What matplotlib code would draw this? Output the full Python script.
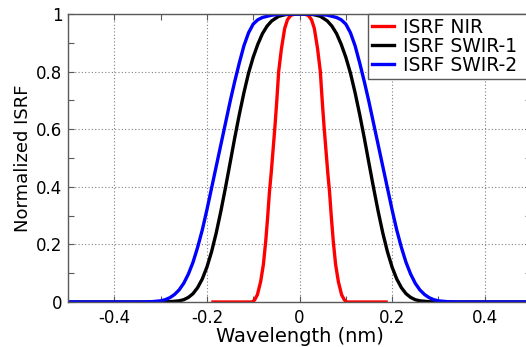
import matplotlib
matplotlib.use("Agg")
import matplotlib.pyplot as plt

plt.rcParams['font.family'] = ['DejaVu Sans']
plt.rcParams['axes.unicode_minus'] = False

# ISRF NIR (red)
nir_x = [-0.187, -0.102, -0.097, -0.091, -0.084, -0.078, -0.073, -0.069, -0.065, -0.061,
         -0.057, -0.053, -0.049, -0.045, -0.039, -0.032, -0.026, -0.019, -0.01, 0.0,
         0.01, 0.019, 0.026, 0.032, 0.039, 0.045, 0.049, 0.053, 0.057, 0.061,
         0.065, 0.069, 0.073, 0.078, 0.084, 0.091, 0.097, 0.102, 0.187]
nir_y = [0.0, 0.0, 0.007, 0.025, 0.07, 0.13, 0.21, 0.29, 0.38, 0.45,
         0.53, 0.61, 0.70, 0.80, 0.88, 0.95, 0.98, 0.995, 1.0, 1.0,
         1.0, 0.995, 0.98, 0.95, 0.88, 0.80, 0.70, 0.61, 0.53, 0.45,
         0.38, 0.29, 0.21, 0.13, 0.07, 0.025, 0.007, 0.0, 0.0]

# ISRF SWIR-1 (black)
swir1_x = [-0.5, -0.30, -0.28, -0.26, -0.25, -0.24, -0.23, -0.22, -0.21, -0.20,
           -0.19, -0.18, -0.17, -0.16, -0.15, -0.14, -0.13, -0.12, -0.11, -0.10,
           -0.09, -0.08, -0.07, -0.06, -0.045, -0.03, 0.0,
           0.03, 0.045, 0.06, 0.07, 0.08, 0.09, 0.10, 0.11, 0.12, 0.13,
           0.14, 0.15, 0.16, 0.17, 0.18, 0.19, 0.20, 0.21, 0.22, 0.23,
           0.24, 0.25, 0.26, 0.28, 0.30, 0.5]
swir1_y = [0.0, 0.0, 0.001, 0.004, 0.008, 0.016, 0.029, 0.050, 0.080, 0.121,
           0.174, 0.239, 0.314, 0.396, 0.482, 0.569, 0.651, 0.727, 0.795, 0.850,
           0.895, 0.932, 0.958, 0.976, 0.992, 0.998, 1.0,
           0.998, 0.992, 0.976, 0.958, 0.932, 0.895, 0.850, 0.795, 0.727, 0.651,
           0.569, 0.482, 0.396, 0.314, 0.239, 0.174, 0.121, 0.080, 0.050, 0.029,
           0.016, 0.008, 0.004, 0.001, 0.0, 0.0]

# ISRF SWIR-2 (blue)
swir2_x = [-0.5, -0.34, -0.32, -0.30, -0.29, -0.28, -0.27, -0.26, -0.25, -0.24,
           -0.23, -0.22, -0.21, -0.20, -0.19, -0.18, -0.17, -0.16, -0.15, -0.14,
           -0.13, -0.12, -0.11, -0.10, -0.09, -0.08, -0.06, -0.04, 0.0,
           0.04, 0.06, 0.08, 0.09, 0.10, 0.11, 0.12, 0.13, 0.14, 0.15,
           0.16, 0.17, 0.18, 0.19, 0.20, 0.21, 0.22, 0.23, 0.24, 0.25,
           0.26, 0.27, 0.28, 0.29, 0.30, 0.32, 0.34, 0.5]
swir2_y = [0.0, 0.0, 0.001, 0.004, 0.008, 0.015, 0.026, 0.042, 0.065, 0.097,
           0.138, 0.19, 0.25, 0.32, 0.395, 0.47, 0.545, 0.62, 0.695, 0.765,
           0.83, 0.89, 0.935, 0.965, 0.98, 0.988, 0.996, 0.999, 1.0,
           0.999, 0.996, 0.988, 0.98, 0.965, 0.935, 0.89, 0.83, 0.765, 0.695,
           0.62, 0.545, 0.47, 0.395, 0.32, 0.25, 0.19, 0.138, 0.097, 0.065,
           0.042, 0.026, 0.015, 0.008, 0.004, 0.001, 0.0, 0.0]

x_ticks = [-0.4, -0.2, 0.0, 0.2, 0.4]
y_ticks = [0.0, 0.2, 0.4, 0.6, 0.8, 1.0]
x_minor = [-0.5, -0.3, -0.1, 0.1, 0.3, 0.5]
y_minor = [0.1, 0.3, 0.5, 0.7, 0.9]

fig = plt.figure(figsize=(5.26, 3.47), dpi=100)
ax = fig.add_axes([68 / 526, 45 / 347, 463 / 526, 288 / 347])

ax.plot(nir_x, nir_y, color='#ff0000', lw=2.4, label='ISRF NIR', solid_joinstyle='round')
ax.plot(swir1_x, swir1_y, color='black', lw=2.4, label='ISRF SWIR-1', solid_joinstyle='round')
ax.plot(swir2_x, swir2_y, color='#0000ff', lw=2.4, label='ISRF SWIR-2', solid_joinstyle='round')

ax.set_xlim(-0.5, 0.5)
ax.set_ylim(0, 1)
ax.set_xticks(x_ticks)
ax.set_xticklabels(['%g' % t for t in x_ticks])
ax.set_yticks(y_ticks)
ax.set_yticklabels(['%g' % t for t in y_ticks])
ax.set_xticks(x_minor, minor=True)
ax.set_yticks(y_minor, minor=True)
ax.tick_params(which='both', direction='in', top=True, right=True,
               length=4, width=0.8, color='0.35', labelsize=12, labelcolor='black')
ax.tick_params(axis='x', pad=5)
ax.tick_params(axis='y', pad=4)
ax.grid(True, which='major', color='0.5', linestyle=(0, (1, 2)), lw=0.8)
for s in ax.spines.values():
    s.set_color('0.35')
    s.set_linewidth(1.0)

ax.set_xlabel('Wavelength (nm)', fontsize=14, labelpad=0)
ax.set_ylabel('Normalized ISRF', fontsize=13, labelpad=3)

# legend box runs off the right edge, as in the original figure
leg = ax.legend(loc='upper left', bbox_to_anchor=(368 / 526, 1 - 14 / 347, 175 / 526, 0),
                bbox_transform=fig.transFigure, mode='expand', fontsize=13.5, frameon=True,
                fancybox=False, borderpad=0.2, labelspacing=0.0,
                handlelength=1.2, handletextpad=0.45, borderaxespad=0)
leg.get_frame().set_edgecolor('0.35')
leg.get_frame().set_linewidth(1.0)
leg.get_frame().set_alpha(1)

fig.savefig('out.png', dpi=100)
